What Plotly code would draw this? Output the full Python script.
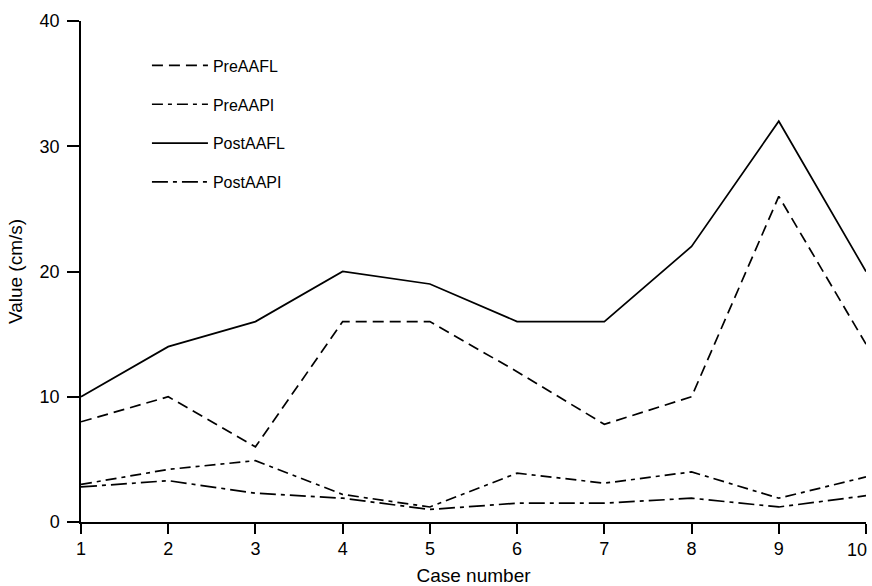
import plotly.graph_objects as go

cases = [1, 2, 3, 4, 5, 6, 7, 8, 9, 10]
case_labels = ["1", "2", "3", "4", "5", "6", "7", "8", "9", ""]
last_case_label = "10"
pre_aafl = [8, 10, 6, 16, 16, 12, 7.8, 10, 26, 14.2]
pre_aapi = [3.0, 4.2, 4.9, 2.2, 1.2, 3.9, 3.1, 4.0, 1.9, 3.6]
post_aafl = [10, 14, 16, 20, 19, 16, 16, 22, 32, 20]
post_aapi = [2.8, 3.3, 2.3, 1.9, 1.0, 1.5, 1.5, 1.9, 1.2, 2.1]

series = [
    ("PreAAFL", pre_aafl, "11px,6px"),
    ("PreAAPI", pre_aapi, "11px,5px,4px,5px"),
    ("PostAAFL", post_aafl, "solid"),
    ("PostAAPI", post_aapi, "16px,5px,4px,5px"),
]

fig = go.Figure()
for i, (name, vals, dash) in enumerate(series):
    fig.add_trace(go.Scatter(
        x=cases, y=vals, mode="lines", name=name,
        legendgroup=f"g{i}",
        line=dict(color="black", width=1.7, dash=dash),
    ))

font_family = "Liberation Sans, Arial, sans-serif"
fig.update_layout(
    width=872, height=586,
    margin=dict(l=81, r=6, t=21, b=64, autoexpand=False),
    paper_bgcolor="white", plot_bgcolor="white",
    font=dict(family=font_family, color="black", size=18),
    showlegend=True,
    legend=dict(
        x=0.084, y=0.945, xanchor="left", yanchor="top",
        bgcolor="rgba(0,0,0,0)", font=dict(size=16),
        tracegroupgap=15, itemwidth=56,
    ),
    xaxis=dict(
        range=[1, 10], tickvals=cases, ticktext=case_labels,
        ticks="outside", ticklen=10,
        automargin=False,
        tickwidth=1.5, tickcolor="black", showline=True, linecolor="black",
        linewidth=1.5, showgrid=False, zeroline=False,
        tickfont=dict(size=18),
        title=dict(text="Case number", font=dict(size=19), standoff=10),
    ),
    yaxis=dict(
        range=[0, 40], tickvals=[0, 10, 20, 30, 40], ticks="outside", ticklen=12,
        ticklabelstandoff=4, automargin=False,
        tickwidth=1.5, tickcolor="black", showline=True, linecolor="black",
        linewidth=1.5, showgrid=False, zeroline=False,
        tickfont=dict(size=18),
        title=dict(text="Value (cm/s)", font=dict(size=19), standoff=12),
    ),
    annotations=[dict(
        x=cases[-1], xref="x", y=0, yref="paper", text=last_case_label,
        showarrow=False, xanchor="right", yanchor="middle",
        xshift=3, yshift=-28, font=dict(size=18, color="black"),
    )],
)

fig.write_html("out.html", config={"displayModeBar": False},
               post_script="document.body.style.margin='0';")
